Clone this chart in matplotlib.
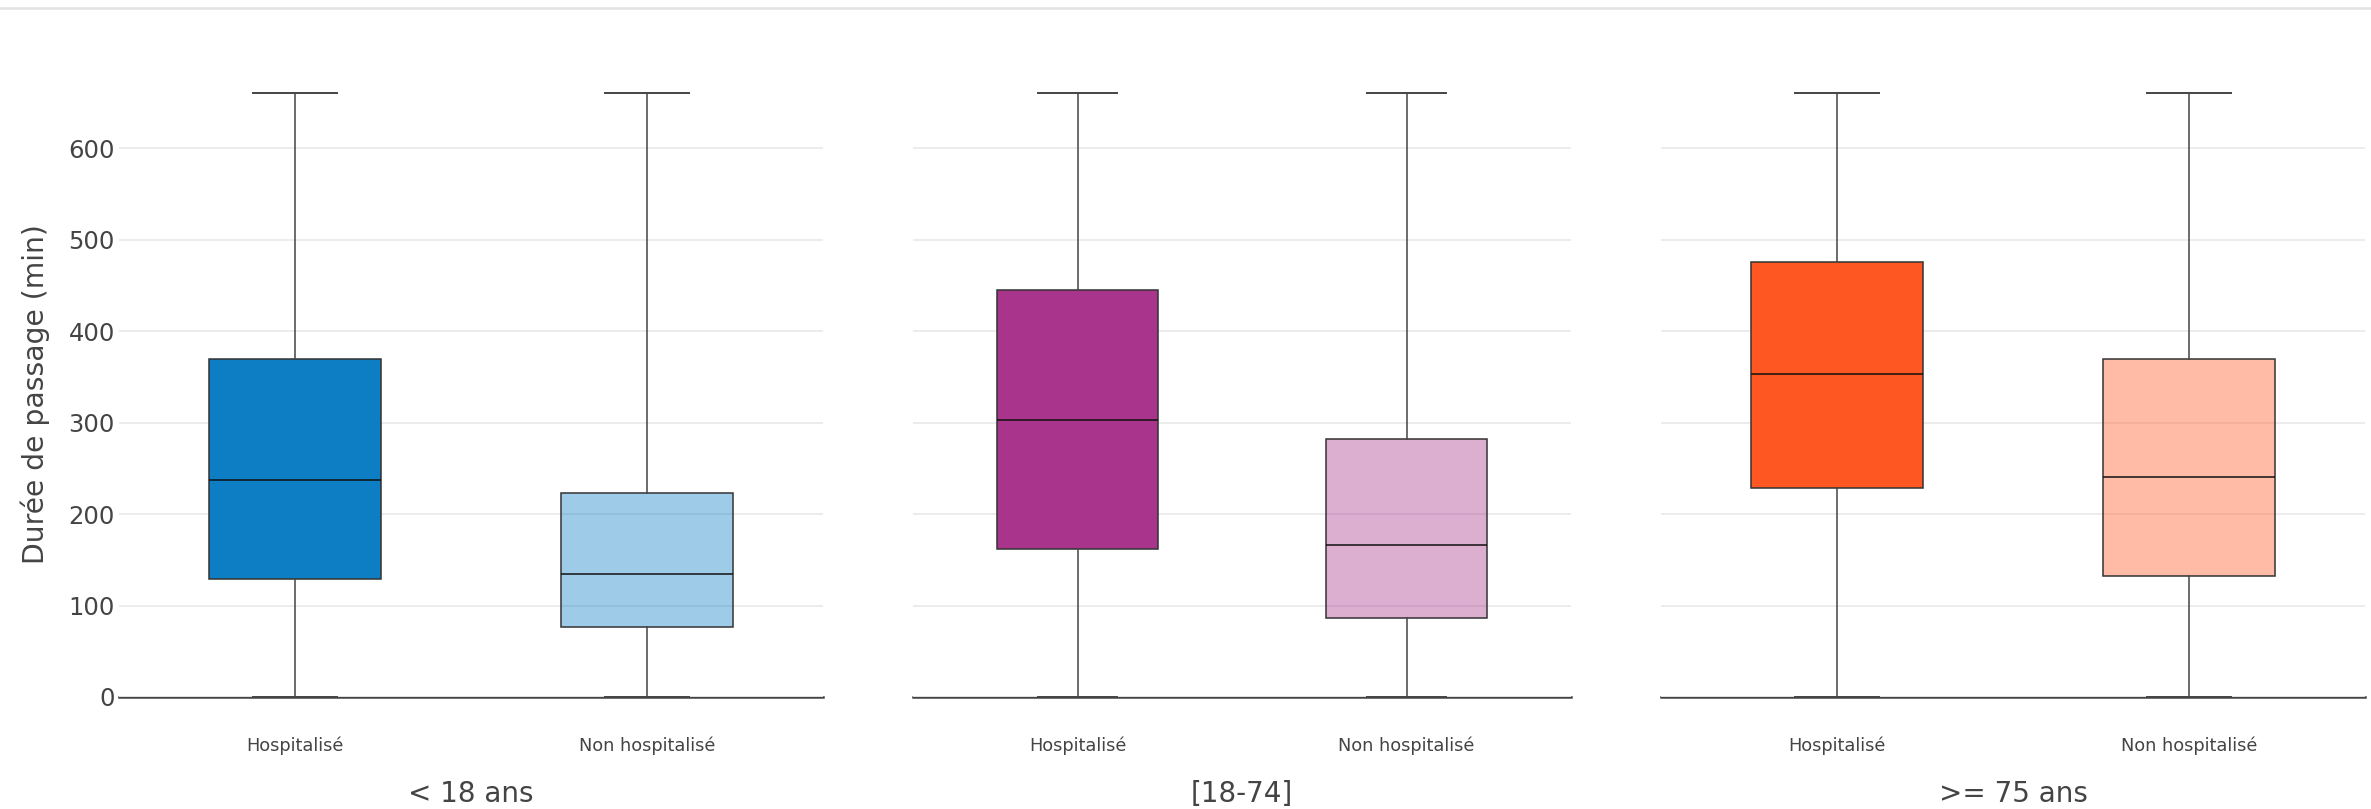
import matplotlib
matplotlib.use('Agg')
import matplotlib.pyplot as plt
from matplotlib.colors import to_rgba
from matplotlib.lines import Line2D

# ---- data ----
groups = ['< 18 ans', '[18-74]', '>= 75 ans']
categories = ['Hospitalisé', 'Non hospitalisé']
q1 = [[129, 77], [162, 86], [228, 132]]
medians = [[237, 134], [303, 166], [353, 241]]
q3 = [[370, 223], [445, 282], [476, 369]]
whisker_low = [[0, 0], [0, 0], [0, 0]]
whisker_high = [[660, 660], [660, 660], [660, 660]]
base_colors = ['#0d7ec4', '#a8358b', '#ff5722']
alphas = [1.0, 0.4]
yticks = [0, 100, 200, 300, 400, 500, 600]
ylabel = 'Durée de passage (min)'

# ---- layout ----
W, H = 2371, 809
fig = plt.figure(figsize=(W / 100, H / 100), dpi=100)
fig.patch.set_facecolor('white')
lefts = [119, 913, 1661]
widths = [704, 658, 704]
y0_px, ytop_px = 697, 91
px_per_unit = (697 - 148.2) / 600.0
ymax = (y0_px - ytop_px) / px_per_unit

fig.add_artist(Line2D([0, 1], [1 - 8 / H, 1 - 8 / H], color='#e2e2e2', lw=1.8,
                      transform=fig.transFigure))

for g in range(3):
    ax = fig.add_axes([lefts[g] / W, (H - y0_px) / H, widths[g] / W, (y0_px - ytop_px) / H])
    stats = []
    for c in range(2):
        stats.append(dict(med=medians[g][c], q1=q1[g][c], q3=q3[g][c],
                          whislo=whisker_low[g][c], whishi=whisker_high[g][c],
                          fliers=[], label=categories[c]))
    bp = ax.bxp(stats, positions=[0, 1], widths=0.49, capwidths=0.24,
                patch_artist=True, showfliers=False,
                boxprops=dict(edgecolor='#333333', linewidth=1.1),
                whiskerprops=dict(color='#444444', linewidth=1.1),
                capprops=dict(color='#444444', linewidth=1.4),
                medianprops=dict(color='#111111', linewidth=1.1))
    for c, box in enumerate(bp['boxes']):
        box.set_facecolor(to_rgba(base_colors[g], alphas[c]))
    for art in bp['whiskers'] + bp['caps'] + bp['boxes'] + bp['medians']:
        art.set_clip_on(False)
    ax.set_xlim(-0.5, 1.5)
    ax.set_ylim(0, ymax)
    ax.set_yticks(yticks)
    ax.yaxis.grid(True, color='#ebebeb', linewidth=1.3)
    ax.set_axisbelow(True)
    for s in ['top', 'right', 'left']:
        ax.spines[s].set_visible(False)
    ax.spines['bottom'].set_color('#444444')
    ax.spines['bottom'].set_linewidth(1.8)
    ax.spines['bottom'].set_zorder(0.5)
    ax.set_xticks([0, 1])
    ax.set_xticklabels(categories)
    ax.tick_params(axis='x', length=0, pad=28.5, labelsize=12.8, labelcolor='#444444')
    ax.tick_params(axis='y', length=0, pad=3, labelsize=17.5, labelcolor='#444444')
    ax.set_xlabel(groups[g], fontsize=20, color='#444444', labelpad=18)
    if g == 0:
        ax.set_ylabel(ylabel, fontsize=20.3, color='#444444')
        ax.yaxis.set_label_coords(-0.098, 0.5)
    else:
        ax.tick_params(axis='y', labelleft=False)
    ax.set_facecolor('none')

fig.savefig('out.png', dpi=100, facecolor='white')
